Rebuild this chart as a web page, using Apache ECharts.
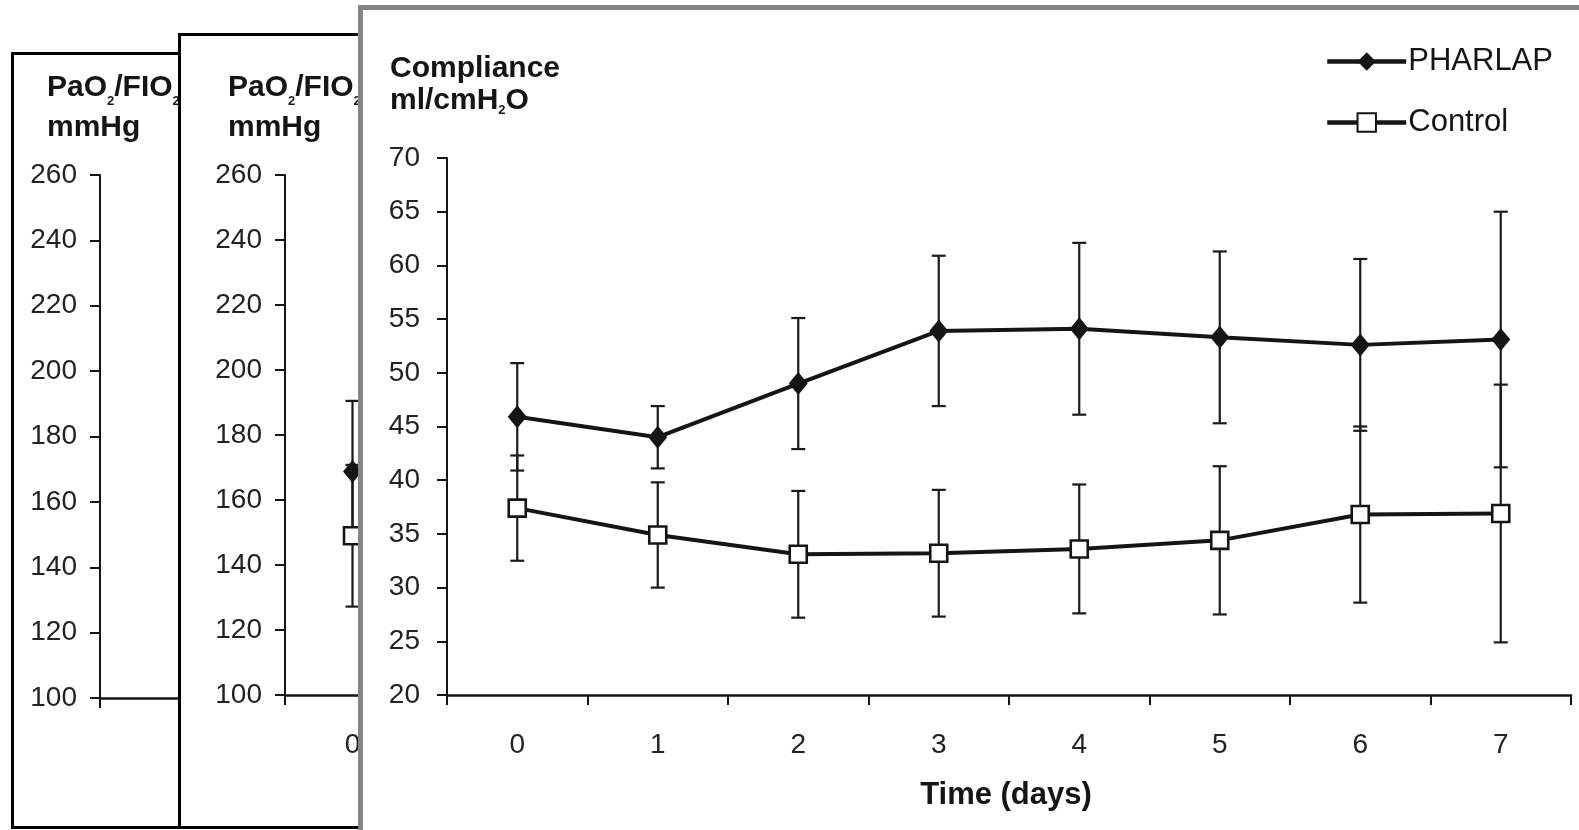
<!DOCTYPE html>
<html>
<head>
<meta charset="utf-8">
<script src="https://cdn.jsdelivr.net/npm/echarts@6/dist/echarts.min.js"></script>
<style>
  html, body { margin: 0; padding: 0; background: #fff; width: 1579px; height: 830px; overflow: hidden; }
  .panel { position: absolute; background: #fff; overflow: hidden; }
  .chart { position: absolute; left: 0; top: 0; width: 100%; height: 100%; }
  .frame { position: absolute; left: 0; top: 0; width: 100%; height: 100%; box-sizing: border-box; pointer-events: none; }
</style>
</head>
<body>
<div class="panel" style="left:11px;top:52px;width:400px;height:777px">
  <div class="chart" id="c1"></div><div class="frame" style="border:3px solid #000"></div>
</div>
<div class="panel" style="left:178px;top:33px;width:1250px;height:796px">
  <div class="chart" id="c2"></div><div class="frame" style="border:3px solid #000"></div>
</div>
<div class="panel" style="left:358px;top:5px;width:1231px;height:835px">
  <div class="chart" id="c3"></div><div class="frame" style="border:5px solid #858585"></div>
</div>
<script>
// Study days on the x axis
const days = ['0', '1', '2', '3', '4', '5', '6', '7'];

// Y tick labels
const pfTicks = [100, 120, 140, 160, 180, 200, 220, 240, 260];
const complianceTicks = [20, 25, 30, 35, 40, 45, 50, 55, 60, 65, 70];

// PaO2/FIO2 (mmHg), day 0
const pfPharlap = [168.8];
const pfPharlapSD = [21.7];
const pfControl = [149.0];
const pfControlSD = [21.8];

// Compliance (ml/cmH2O), days 0-7
const compPharlap = [45.9, 44.0, 49.0, 53.9, 54.1, 53.3, 52.6, 53.1];
const compPharlapSD = [5.0, 2.9, 6.1, 7.0, 8.0, 8.0, 8.0, 11.9];
const compControl = [37.4, 34.9, 33.1, 33.2, 33.6, 34.4, 36.8, 36.9];
const compControlSD = [4.9, 4.9, 5.9, 5.9, 6.0, 6.9, 8.2, 12.0];

const FONT = '"Liberation Sans", Arial, Helvetica, sans-serif';
const INK = '#151515';

function titleRich(lineHeight) {
  return {
    b: { fontSize: 30, fontWeight: 'bold', fontFamily: FONT, color: INK, lineHeight: lineHeight },
    s: { fontSize: 13, fontWeight: 'bold', fontFamily: FONT, color: INK, lineHeight: 12, verticalAlign: 'bottom' }
  };
}

function yAxisFor(ticks, labelMargin) {
  return {
    type: 'value',
    min: ticks[0],
    max: ticks[ticks.length - 1],
    interval: ticks[1] - ticks[0],
    axisLine: { show: true, lineStyle: { color: INK, width: 2 } },
    axisTick: { show: true, length: 10, lineStyle: { color: INK, width: 2 } },
    splitLine: { show: false },
    axisLabel: { color: '#222', fontSize: 28, fontFamily: FONT, margin: labelMargin }
  };
}

function xAxisFor(extra) {
  return Object.assign({
    type: 'category',
    data: days,
    boundaryGap: true,
    axisLine: { show: true, lineStyle: { color: INK, width: 2.5 } },
    axisTick: { show: true, length: 10, lineStyle: { color: INK, width: 2 } },
    axisLabel: { color: '#222', fontSize: 28, fontFamily: FONT, margin: 36 },
    splitLine: { show: false }
  }, extra || {});
}

// Vertical mean ± SD whiskers with caps
function errorBars(means, sds) {
  return {
    type: 'custom',
    silent: true,
    z: 1,
    data: means.map((m, i) => [i, m - sds[i], m + sds[i]]),
    encode: { x: 0, y: [1, 2] },
    renderItem: function (params, api) {
      const lo = api.coord([api.value(0), api.value(1)]);
      const hi = api.coord([api.value(0), api.value(2)]);
      const w = 7;
      const st = { stroke: '#1a1a1a', lineWidth: 2.2 };
      return {
        type: 'group',
        children: [
          { type: 'line', shape: { x1: lo[0], y1: lo[1], x2: hi[0], y2: hi[1] }, style: st },
          { type: 'line', shape: { x1: lo[0] - w, y1: lo[1], x2: lo[0] + w, y2: lo[1] }, style: st },
          { type: 'line', shape: { x1: hi[0] - w, y1: hi[1], x2: hi[0] + w, y2: hi[1] }, style: st }
        ]
      };
    }
  };
}

function meanLine(name, values, isPharlap) {
  return {
    name: name,
    type: 'line',
    data: values,
    z: 3,
    showAllSymbol: true,
    symbol: isPharlap ? 'diamond' : 'rect',
    symbolSize: isPharlap ? [19, 23] : 17,
    lineStyle: { color: INK, width: 4 },
    itemStyle: isPharlap
      ? { color: INK }
      : { color: '#fff', borderColor: INK, borderWidth: 2.6 },
    emphasis: { disabled: true }
  };
}

// Panel 1: PaO2/FIO2 (first panel, mostly covered)
const chart1 = echarts.init(document.getElementById('c1'), null, { renderer: 'canvas' });
chart1.setOption({
  animation: false,
  title: {
    text: '{b|PaO}{s|2}{b|/FIO}{s|2}\n{b|mmHg}',
    left: 36, top: 16, padding: 0,
    textStyle: { rich: titleRich(40) }
  },
  grid: { left: 89, top: 123, right: -1100, bottom: 131 },
  xAxis: xAxisFor({
    axisLabel: { show: false },
    axisTick: { show: true, length: 10, interval: (i) => i === 0, lineStyle: { color: INK, width: 2 } }
  }),
  yAxis: yAxisFor(pfTicks, 23),
  series: []
});

// Panel 2: PaO2/FIO2
const chart2 = echarts.init(document.getElementById('c2'), null, { renderer: 'canvas' });
chart2.setOption({
  animation: false,
  title: {
    text: '{b|PaO}{s|2}{b|/FIO}{s|2}\n{b|mmHg}',
    left: 50, top: 35, padding: 0,
    textStyle: { rich: titleRich(40) }
  },
  grid: { left: 107, top: 142, right: 63, bottom: 134 },
  xAxis: xAxisFor(),
  yAxis: yAxisFor(pfTicks, 23),
  series: [
    errorBars(pfPharlap, pfPharlapSD),
    errorBars(pfControl, pfControlSD),
    meanLine('PHARLAP', pfPharlap, true),
    meanLine('Control', pfControl, false)
  ]
});

// Panel 3: respiratory compliance
const chart3 = echarts.init(document.getElementById('c3'), null, { renderer: 'canvas' });
chart3.setOption({
  animation: false,
  title: {
    text: '{b|Compliance}\n{b|ml/cmH}{s|2}{b|O}',
    left: 32, top: 48, padding: 0,
    textStyle: { rich: titleRich(32) }
  },
  legend: {
    orient: 'vertical',
    left: 967, top: 41, padding: 0,
    itemWidth: 79, itemHeight: 23, itemGap: 30,
    lineStyle: { width: 4.5, color: INK },
    textStyle: { fontSize: 31, color: INK, fontFamily: FONT, padding: [0, 0, 0, -3] },
    data: ['PHARLAP', 'Control']
  },
  grid: { left: 89, top: 153, right: 18, bottom: 145 },
  xAxis: xAxisFor({
    name: 'Time (days)',
    nameLocation: 'middle',
    nameGap: 85,
    nameTextStyle: { fontSize: 31, fontWeight: 'bold', color: INK, fontFamily: FONT, padding: [0, 6, 0, 0] }
  }),
  yAxis: yAxisFor(complianceTicks, 27),
  series: [
    errorBars(compPharlap, compPharlapSD),
    errorBars(compControl, compControlSD),
    meanLine('PHARLAP', compPharlap, true),
    meanLine('Control', compControl, false)
  ]
});
</script>
</body>
</html>
